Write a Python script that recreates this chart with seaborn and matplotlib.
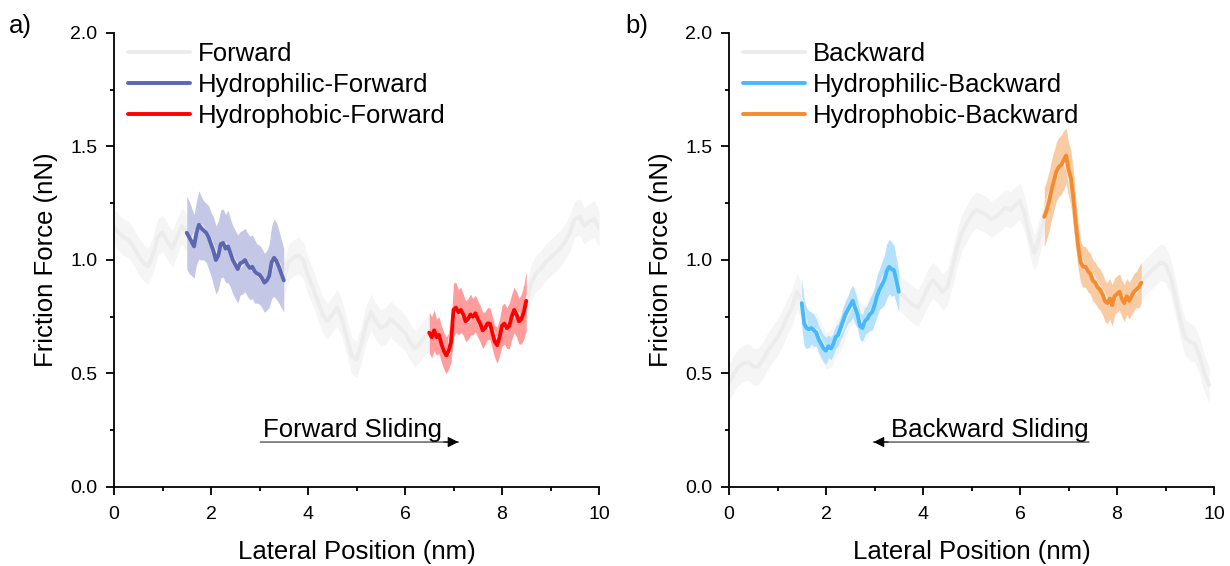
import numpy as np
import pandas as pd
import matplotlib
matplotlib.use("Agg")
import matplotlib.pyplot as plt
from matplotlib.ticker import MultipleLocator
import seaborn as sns

# ---- data (friction force, nN) ----
x_full_fwd = [round(0.1 * i, 1) for i in range(101)]
y_forward = [1.145, 1.12, 1.10, 1.09, 1.06, 1.02, 0.99, 0.97, 1.02, 1.10,
             1.12, 1.08, 1.05, 1.10, 1.15, 1.12, 1.08, 1.13, 1.15, 1.12,
             1.08, 1.02, 1.06, 1.07, 1.03, 0.99, 0.97, 1.00, 0.97, 0.95,
             0.93, 0.90, 0.93, 1.01, 0.98, 0.91, 0.99, 1.01, 1.02, 1.00,
             0.93, 0.88, 0.82, 0.76, 0.73, 0.76, 0.79, 0.74, 0.66, 0.58,
             0.56, 0.63, 0.72, 0.77, 0.73, 0.70, 0.71, 0.74, 0.72, 0.70,
             0.68, 0.64, 0.61, 0.63, 0.66, 0.68, 0.67, 0.66, 0.60, 0.59,
             0.76, 0.78, 0.75, 0.73, 0.76, 0.74, 0.69, 0.71, 0.69, 0.63,
             0.70, 0.71, 0.74, 0.77, 0.74, 0.80, 0.90, 0.94, 0.96, 0.99,
             1.01, 1.03, 1.05, 1.08, 1.12, 1.18, 1.19, 1.15, 1.17, 1.18,
             1.14]
err_forward = [0.08] * 101

x_seg_a = [round(1.5 + 0.05 * i, 2) for i in range(41)]
y_philic_fwd = [1.12, 1.10, 1.08, 1.06, 1.12, 1.155, 1.14, 1.13, 1.12, 1.10,
                1.07, 1.04, 1.00, 1.02, 1.07, 1.075, 1.05, 1.06, 1.03, 1.00,
                0.98, 0.96, 0.985, 0.99, 1.00, 0.98, 0.965, 0.97, 0.95, 0.94,
                0.935, 0.92, 0.90, 0.91, 0.93, 0.99, 1.01, 0.995, 0.97, 0.94,
                0.91]
err_philic_fwd = [0.16, 0.16, 0.15, 0.14, 0.14, 0.15, 0.14, 0.13, 0.13, 0.14,
                  0.14, 0.15, 0.15, 0.15, 0.15, 0.15, 0.15, 0.16, 0.15, 0.15,
                  0.15, 0.15, 0.14, 0.14, 0.14, 0.14, 0.14, 0.14, 0.14, 0.13,
                  0.13, 0.13, 0.13, 0.13, 0.14, 0.16, 0.17, 0.17, 0.16, 0.15,
                  0.14]

x_seg_b = [round(6.5 + 0.05 * i, 2) for i in range(41)]
y_phobic_fwd = [0.68, 0.66, 0.69, 0.66, 0.67, 0.63, 0.60, 0.58, 0.60, 0.64,
                0.78, 0.79, 0.77, 0.78, 0.76, 0.73, 0.74, 0.76, 0.75, 0.765,
                0.74, 0.72, 0.69, 0.70, 0.72, 0.72, 0.68, 0.64, 0.625, 0.66,
                0.71, 0.72, 0.70, 0.71, 0.75, 0.78, 0.76, 0.73, 0.74, 0.77,
                0.82]
err_phobic_fwd = [0.09, 0.09, 0.09, 0.08, 0.08, 0.08, 0.08, 0.08, 0.08, 0.09,
                  0.12, 0.11, 0.10, 0.10, 0.09, 0.09, 0.09, 0.09, 0.08, 0.08,
                  0.08, 0.08, 0.08, 0.07, 0.07, 0.07, 0.07, 0.07, 0.08, 0.08,
                  0.09, 0.09, 0.09, 0.10, 0.10, 0.10, 0.10, 0.10, 0.11, 0.12,
                  0.13]

x_full_bwd = [round(0.1 * i, 1) for i in range(100)]
y_backward = [0.46, 0.50, 0.53, 0.545, 0.55, 0.53, 0.53, 0.56, 0.60, 0.63,
              0.66, 0.70, 0.75, 0.79, 0.86, 0.82, 0.70, 0.69, 0.69, 0.64,
              0.60, 0.61, 0.65, 0.68, 0.74, 0.79, 0.80, 0.73, 0.72, 0.76,
              0.80, 0.87, 0.93, 0.97, 0.95, 0.86, 0.84, 0.82, 0.80, 0.79,
              0.83, 0.88, 0.91, 0.89, 0.86, 0.88, 0.96, 1.05, 1.12, 1.16,
              1.20, 1.22, 1.21, 1.20, 1.18, 1.19, 1.21, 1.23, 1.22, 1.24,
              1.26, 1.20, 1.10, 1.03, 1.10, 1.19, 1.28, 1.35, 1.41, 1.44,
              1.39, 1.25, 1.05, 0.97, 0.95, 0.93, 0.89, 0.86, 0.82, 0.80,
              0.85, 0.84, 0.82, 0.84, 0.86, 0.90, 0.93, 0.95, 0.97, 0.99,
              0.98, 0.93, 0.84, 0.74, 0.66, 0.64, 0.63, 0.58, 0.50, 0.45]
err_backward = [0.08] * 100

y_philic_bwd = [0.81, 0.72, 0.70, 0.695, 0.70, 0.69, 0.68, 0.65, 0.63, 0.61,
                0.60, 0.62, 0.61, 0.63, 0.66, 0.67, 0.70, 0.73, 0.76, 0.78,
                0.80, 0.82, 0.79, 0.76, 0.71, 0.70, 0.73, 0.74, 0.76, 0.77,
                0.80, 0.84, 0.87, 0.89, 0.91, 0.95, 0.97, 0.96, 0.955, 0.91,
                0.86]
err_philic_bwd = [0.11, 0.10, 0.09, 0.08, 0.07, 0.07, 0.06, 0.06, 0.06, 0.06,
                  0.06, 0.05, 0.05, 0.05, 0.05, 0.05, 0.05, 0.06, 0.06, 0.06,
                  0.07, 0.07, 0.07, 0.06, 0.06, 0.06, 0.06, 0.06, 0.07, 0.08,
                  0.08, 0.09, 0.09, 0.10, 0.11, 0.12, 0.12, 0.12, 0.11, 0.10,
                  0.09]

y_phobic_bwd = [1.19, 1.22, 1.26, 1.31, 1.35, 1.39, 1.41, 1.42, 1.44, 1.46,
                1.40, 1.36, 1.27, 1.16, 1.06, 0.99, 0.97, 0.97, 0.95, 0.94,
                0.91, 0.90, 0.88, 0.87, 0.85, 0.82, 0.81, 0.83, 0.80, 0.84,
                0.85, 0.86, 0.83, 0.81, 0.84, 0.82, 0.84, 0.86, 0.87, 0.88,
                0.90]
err_phobic_bwd = [0.13, 0.13, 0.13, 0.13, 0.13, 0.13, 0.13, 0.13, 0.13, 0.12,
                  0.12, 0.12, 0.12, 0.11, 0.10, 0.09, 0.09, 0.09, 0.09, 0.09,
                  0.09, 0.09, 0.09, 0.09, 0.09, 0.09, 0.09, 0.09, 0.09, 0.08,
                  0.08, 0.08, 0.08, 0.08, 0.08, 0.08, 0.08, 0.08, 0.08, 0.09,
                  0.09]

sns.set_style("ticks")
plt.rcParams['font.family'] = ['Liberation Sans', 'DejaVu Sans']
plt.rcParams.update({'text.color': 'black', 'axes.labelcolor': 'black',
                     'xtick.color': 'black', 'ytick.color': 'black'})

fig = plt.figure(figsize=(12.3, 5.66), dpi=100)
ax1 = fig.add_axes([0.0927, 0.1396, 0.3943, 0.8021])
ax2 = fig.add_axes([0.5927, 0.1396, 0.3943, 0.8021])


def trace(ax, x, y, err, line_c, band_c, label, lw=2.8):
    x = np.array(x)
    y = np.array(y)
    err = np.array(err)
    ax.fill_between(x, y - err, y + err, color=band_c, lw=0)
    sns.lineplot(x=x, y=y, ax=ax, color=line_c, lw=lw, label=label)


panels = [
    (ax1, "a)", 0.007,
     [(x_full_fwd, y_forward, err_forward, "#ececec", "#f5f5f5", "Forward"),
      (x_seg_a, y_philic_fwd, err_philic_fwd, "#5b67b0", "#c4c7e5", "Hydrophilic-Forward"),
      (x_seg_b, y_phobic_fwd, err_phobic_fwd, "#ff0000", "#ff9c9c", "Hydrophobic-Forward")],
     "Forward Sliding", (3.02, 7.1), 4.92),
    (ax2, "b)", 0.508,
     [(x_full_bwd, y_backward, err_backward, "#ececec", "#f5f5f5", "Backward"),
      (x_seg_a, y_philic_bwd, err_philic_bwd, "#45b9fb", "#b4e2fd", "Hydrophilic-Backward"),
      (x_seg_b, y_phobic_bwd, err_phobic_bwd, "#f68a2c", "#f9cba2", "Hydrophobic-Backward")],
     "Backward Sliding", (7.42, 2.98), 5.38),
]

for ax, tag, tag_x, series, note, (xa, xb), xt in panels:
    for s in series:
        trace(ax, *s)
    ax.set_xlim(0, 10)
    ax.set_ylim(0, 2.0)
    ax.xaxis.set_major_locator(MultipleLocator(2))
    ax.xaxis.set_minor_locator(MultipleLocator(1))
    ax.yaxis.set_major_locator(MultipleLocator(0.5))
    ax.yaxis.set_minor_locator(MultipleLocator(0.25))
    ax.yaxis.set_major_formatter(matplotlib.ticker.FormatStrFormatter('%.1f'))
    ax.tick_params(which='major', length=6, width=1.3, labelsize=14, direction='out')
    ax.tick_params(which='minor', length=3.2, width=1.3, direction='out')
    ax.tick_params(axis='x', which='major', pad=8)
    ax.tick_params(axis='y', which='major', pad=6)
    for sp in ['top', 'right']:
        ax.spines[sp].set_visible(False)
    for sp in ['left', 'bottom']:
        ax.spines[sp].set_linewidth(1.3)
        ax.spines[sp].set_color('black')
    ax.set_xlabel("Lateral Position (nm)", fontsize=18.5, labelpad=12)
    ax.set_ylabel("Friction Force (nN)", fontsize=18.5, labelpad=9)
    ax.legend(loc='upper left', bbox_to_anchor=(-0.008, 1.02), frameon=False,
              fontsize=18.5, handlelength=2.4, handletextpad=0.3,
              labelspacing=0.28, borderaxespad=0.3)
    # gray shaft plus a small black head, as in the reference
    ax.annotate("", xy=(xb, 0.198), xytext=(xa, 0.198),
                arrowprops=dict(arrowstyle='-', color='#707070', lw=1.2,
                                shrinkA=0, shrinkB=0))
    head_from = xb - 0.3 if xb > xa else xb + 0.3
    ax.annotate("", xy=(xb, 0.198), xytext=(head_from, 0.198),
                arrowprops=dict(arrowstyle='-|>', color='black', lw=0.8,
                                mutation_scale=16, shrinkA=0, shrinkB=0))
    ax.text(xt, 0.222, note, fontsize=18.5, ha='center', va='baseline')
    fig.text(tag_x, 0.975, tag, fontsize=18.5, ha='left', va='top')

fig.savefig("out.png", dpi=100)
